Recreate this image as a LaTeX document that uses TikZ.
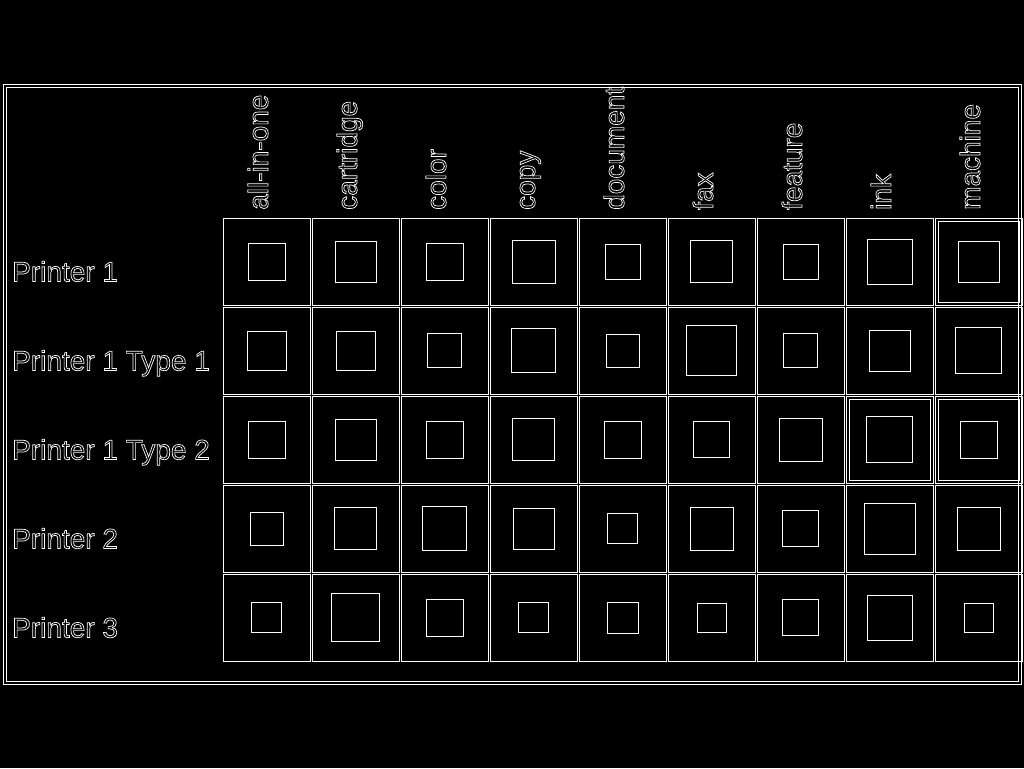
\documentclass[tikz,border=0pt]{standalone}
\usepackage{fontspec}
\setmainfont{Liberation Sans}
\usetikzlibrary{backgrounds}
\newcommand{\linecolor}{white}
\newcommand{\thickness}{0.8pt}
\newcommand{\cellsize}{87pt}
\newcommand{\hollow}[1]{\special{pdf:literal direct 1 Tr 0.7 w}#1\special{pdf:literal direct 0 Tr}}

\begin{document}
\begin{tikzpicture}[x=1pt, y=-1pt,
  cell/.style={draw=\linecolor, line width=\thickness, minimum size=\cellsize, inner sep=0pt},
  markbox/.style={draw=\linecolor, line width=\thickness, inner sep=0pt},
  word/.style={text=\linecolor, rotate=90, anchor=base west, inner sep=0pt, font=\fontsize{28}{30}\selectfont},
  doc/.style={text=\linecolor, anchor=base west, inner sep=0pt, font=\fontsize{28}{30}\selectfont}]
\fill[black] (0,0) rectangle (1024,768);
\useasboundingbox (0,0) rectangle (1024,768);
\draw[\linecolor] [line width = \thickness] (3,84) rectangle (1021,684);
\draw[\linecolor] [line width = \thickness] (6,87) rectangle (1018,681);
%words
\node[word] (w1) at (268,210) {\hollow{all-in-one}};
\node[word] (w2) at (357,210) {\hollow{cartridge}};
\node[word] (w3) at (446,210) {\hollow{color}};
\node[word] (w4) at (535,210) {\hollow{copy}};
\node[word] (w5) at (624,210) {\hollow{document}};
\node[word] (w6) at (713,210) {\hollow{fax}};
\node[word] (w7) at (802,210) {\hollow{feature}};
\node[word] (w8) at (891,210) {\hollow{ink}};
\node[word] (w9) at (980,210) {\hollow{machine}};
%documents
\node[doc] (d1) at (12,281.5) {\hollow{Printer 1}};
\node[doc] (d2) at (12,370.5) {\hollow{Printer 1 Type 1}};
\node[doc] (d3) at (12,459.5) {\hollow{Printer 1 Type 2}};
\node[doc] (d4) at (12,548.5) {\hollow{Printer 2}};
\node[doc] (d5) at (12,637.5) {\hollow{Printer 3}};
%Printer 1
\node[cell] (c11) at (266.5,261.5) {}; \node[markbox, minimum size=37pt] (s11) at (c11) {};
\node[cell] (c12) at (355.5,261.5) {}; \node[markbox, minimum size=41pt] (s12) at (c12) {};
\node[cell] (c13) at (444.5,261.5) {}; \node[markbox, minimum size=37pt] (s13) at (c13) {};
\node[cell] (c14) at (533.5,261.5) {}; \node[markbox, minimum size=43pt] (s14) at (c14) {};
\node[cell] (c15) at (622.5,261.5) {}; \node[markbox, minimum size=35pt] (s15) at (c15) {};
\node[cell] (c16) at (711.5,261.5) {}; \node[markbox, minimum size=42pt] (s16) at (c16) {};
\node[cell] (c17) at (800.5,261.5) {}; \node[markbox, minimum size=35pt] (s17) at (c17) {};
\node[cell] (c18) at (889.5,261.5) {}; \node[markbox, minimum size=45pt] (s18) at (c18) {};
\node[cell] (c19) at (978.5,261.5) {}; \node[markbox, minimum size=41pt] (s19) at (c19) {};
\node[cell, minimum size=81pt] (h19) at (c19) {};
%Printer 1 Type 1
\node[cell] (c21) at (266.5,350.5) {}; \node[markbox, minimum size=39pt] (s21) at (c21) {};
\node[cell] (c22) at (355.5,350.5) {}; \node[markbox, minimum size=39pt] (s22) at (c22) {};
\node[cell] (c23) at (444.5,350.5) {}; \node[markbox, minimum size=34pt] (s23) at (c23) {};
\node[cell] (c24) at (533.5,350.5) {}; \node[markbox, minimum size=44pt] (s24) at (c24) {};
\node[cell] (c25) at (622.5,350.5) {}; \node[markbox, minimum size=33pt] (s25) at (c25) {};
\node[cell] (c26) at (711.5,350.5) {}; \node[markbox, minimum size=50pt] (s26) at (c26) {};
\node[cell] (c27) at (800.5,350.5) {}; \node[markbox, minimum size=34pt] (s27) at (c27) {};
\node[cell] (c28) at (889.5,350.5) {}; \node[markbox, minimum size=41pt] (s28) at (c28) {};
\node[cell] (c29) at (978.5,350.5) {}; \node[markbox, minimum size=46pt] (s29) at (c29) {};
%Printer 1 Type 2
\node[cell] (c31) at (266.5,439.5) {}; \node[markbox, minimum size=37pt] (s31) at (c31) {};
\node[cell] (c32) at (355.5,439.5) {}; \node[markbox, minimum size=41pt] (s32) at (c32) {};
\node[cell] (c33) at (444.5,439.5) {}; \node[markbox, minimum size=37pt] (s33) at (c33) {};
\node[cell] (c34) at (533.5,439.5) {}; \node[markbox, minimum size=42pt] (s34) at (c34) {};
\node[cell] (c35) at (622.5,439.5) {}; \node[markbox, minimum size=37pt] (s35) at (c35) {};
\node[cell] (c36) at (711.5,439.5) {}; \node[markbox, minimum size=36pt] (s36) at (c36) {};
\node[cell] (c37) at (800.5,439.5) {}; \node[markbox, minimum size=43pt] (s37) at (c37) {};
\node[cell] (c38) at (889.5,439.5) {}; \node[markbox, minimum size=46pt] (s38) at (c38) {};
\node[cell] (c39) at (978.5,439.5) {}; \node[markbox, minimum size=37pt] (s39) at (c39) {};
\node[cell, minimum size=81pt] (h38) at (c38) {};
\node[cell, minimum size=81pt] (h39) at (c39) {};
%Printer 2
\node[cell] (c41) at (266.5,528.5) {}; \node[markbox, minimum size=33pt] (s41) at (c41) {};
\node[cell] (c42) at (355.5,528.5) {}; \node[markbox, minimum size=42pt] (s42) at (c42) {};
\node[cell] (c43) at (444.5,528.5) {}; \node[markbox, minimum size=44pt] (s43) at (c43) {};
\node[cell] (c44) at (533.5,528.5) {}; \node[markbox, minimum size=41pt] (s44) at (c44) {};
\node[cell] (c45) at (622.5,528.5) {}; \node[markbox, minimum size=30pt] (s45) at (c45) {};
\node[cell] (c46) at (711.5,528.5) {}; \node[markbox, minimum size=43pt] (s46) at (c46) {};
\node[cell] (c47) at (800.5,528.5) {}; \node[markbox, minimum size=36pt] (s47) at (c47) {};
\node[cell] (c48) at (889.5,528.5) {}; \node[markbox, minimum size=51pt] (s48) at (c48) {};
\node[cell] (c49) at (978.5,528.5) {}; \node[markbox, minimum size=43pt] (s49) at (c49) {};
%Printer 3
\node[cell] (c51) at (266.5,617.5) {}; \node[markbox, minimum size=30pt] (s51) at (c51) {};
\node[cell] (c52) at (355.5,617.5) {}; \node[markbox, minimum size=48pt] (s52) at (c52) {};
\node[cell] (c53) at (444.5,617.5) {}; \node[markbox, minimum size=37pt] (s53) at (c53) {};
\node[cell] (c54) at (533.5,617.5) {}; \node[markbox, minimum size=30pt] (s54) at (c54) {};
\node[cell] (c55) at (622.5,617.5) {}; \node[markbox, minimum size=31pt] (s55) at (c55) {};
\node[cell] (c56) at (711.5,617.5) {}; \node[markbox, minimum size=29pt] (s56) at (c56) {};
\node[cell] (c57) at (800.5,617.5) {}; \node[markbox, minimum size=36pt] (s57) at (c57) {};
\node[cell] (c58) at (889.5,617.5) {}; \node[markbox, minimum size=45pt] (s58) at (c58) {};
\node[cell] (c59) at (978.5,617.5) {}; \node[markbox, minimum size=29pt] (s59) at (c59) {};
\end{tikzpicture}
\end{document}
